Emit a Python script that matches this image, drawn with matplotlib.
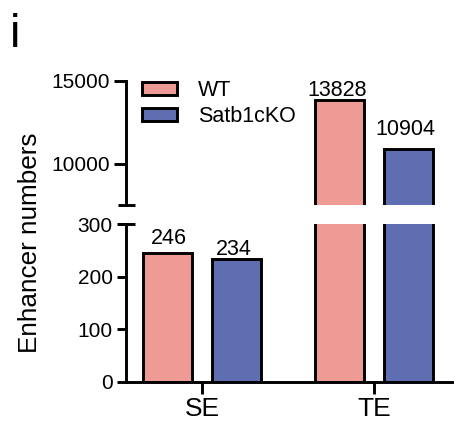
import matplotlib
matplotlib.use('Agg')
import matplotlib.pyplot as plt
from matplotlib.patches import Patch
import numpy as np

plt.rcParams['font.family'] = ['Liberation Sans', 'DejaVu Sans']

# Enhancer counts per group
groups = ['SE', 'TE']
series = ['WT', 'Satb1cKO']
wt_counts = [246, 13828]
ko_counts = [234, 10904]
colors = ['#EE9A95', '#5F6DB1']

lower_ticks = [0, 100, 200, 300]
upper_ticks = [10000, 15000]

# label nudges (points) for the value text above each bar: WT SE, KO SE, WT TE, KO TE
label_dy = [6.5, 2.9, 3.3, 10.0]
label_dx = [1.0, -2.0, -2.2, -2.2]

lw = 2.1
fig = plt.figure(figsize=(4.54, 4.29), dpi=100)
left, width = 0.2786, 0.7170
ax_lo = fig.add_axes([left, 0.1103, width, 0.3664])
ax_hi = fig.add_axes([left, 0.5210, width, 0.2902])

x = np.arange(len(groups))
bw = 0.285
offs = [-0.2, 0.2]
for ax in (ax_lo, ax_hi):
    for vals, off, c in zip((wt_counts, ko_counts), offs, colors):
        ax.bar(x + off, vals, width=bw, color=c, edgecolor='black', linewidth=lw)
    ax.set_xlim(-0.4407, 1.4517)
    for s in ('top', 'right'):
        ax.spines[s].set_visible(False)
    ax.spines['left'].set_linewidth(lw)
    ax.spines['bottom'].set_linewidth(lw)
    ax.tick_params(labelsize=15, width=lw, color='black')

ax_lo.set_ylim(0, 300)
ax_lo.set_yticks(lower_ticks)
ax_lo.tick_params(axis='y', length=6.5, pad=3.3)
ax_lo.set_xticks(x)
ax_lo.set_xticklabels(groups, fontsize=19)
ax_lo.tick_params(axis='x', length=8.6, pad=2.5)

ax_hi.set_ylim(7500, 15000)
ax_hi.set_yticks(upper_ticks)
ax_hi.tick_params(axis='y', length=8.6, pad=3.6)
ax_hi.spines['bottom'].set_visible(False)
ax_hi.set_xticks([])

# break caps on the y axis
cap = 8.5 / (width * 454)
ax_lo.plot([-cap, cap], [1, 1], transform=ax_lo.transAxes, color='black',
           lw=lw, clip_on=False, solid_capstyle='butt')
ax_hi.plot([-cap, cap], [0, 0], transform=ax_hi.transAxes, color='black',
           lw=lw, clip_on=False, solid_capstyle='butt')

# value labels
k = 0
for gi in range(len(groups)):
    ax = ax_lo if gi == 0 else ax_hi
    for vals, off in zip((wt_counts, ko_counts), offs):
        ax.annotate(str(vals[gi]), (x[gi] + off, vals[gi]),
                    xytext=(label_dx[k], label_dy[k]), textcoords='offset points',
                    ha='center', va='baseline', fontsize=15.5)
        k += 1

handles = [Patch(facecolor=c, edgecolor='black', linewidth=lw) for c in colors]
fig.legend(handles, series, loc='upper left', bbox_to_anchor=(142 / 454, 1 - 80 / 429),
           frameon=False, fontsize=15.5, handlelength=1.63, handleheight=0.51,
           handletextpad=0.98, labelspacing=0.24, borderpad=0, borderaxespad=0)

fig.text(30 / 454, 1 - 243 / 429, 'Enhancer numbers', rotation=90,
         ha='center', va='center', fontsize=18.8)
fig.text(10 / 454, 1 - 46.7 / 429, 'i', ha='left', va='baseline', fontsize=34)

fig.savefig('out.png', dpi=100)
